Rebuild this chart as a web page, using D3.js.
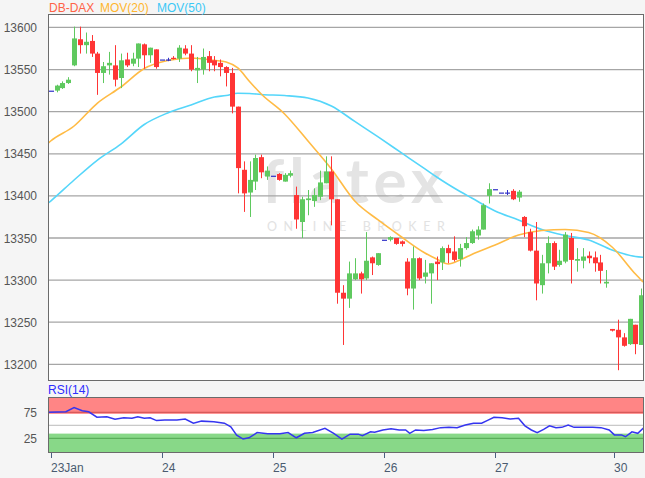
<!DOCTYPE html>
<html><head><meta charset="utf-8">
<script src="https://cdn.jsdelivr.net/npm/d3@7"></script>
<style>
html,body{margin:0;padding:0;background:#f5f5f5;}
svg{display:block;font-family:"Liberation Sans",Arial,sans-serif;}
</style></head><body>
<svg id="c" width="645" height="478"></svg>
<script>
// ---------- data ----------
const candleOpen  = [13525,13525,13528,13534,13555,13586,13579,13584,13569,13546,13555,13555,13540,13562,13557,13563,13580,13567,13574,13562,13562,13564,13563,13575,13569,13549,13550,13566,13561,13558,13553,13546,13506,13431,13404,13417,13446,13423,13424,13426,13417,13424,13401,13369,13395,13394,13399,13415,13429,13396,13285,13278,13301,13308,13302,13327,13318,13348,13348,13350,13346,13322,13290,13326,13304,13308,13322,13321,13338,13334,13325,13338,13344,13353,13360,13400,13408,13404,13404,13406,13398,13375,13357,13335,13294,13320,13344,13318,13322,13350,13323,13323,13329,13327,13321,13296,13242,13241,13232,13224,13247,13223];
const candleHigh  = [13525,13532,13536,13541,13601,13601,13594,13591,13571,13559,13571,13579,13569,13570,13570,13581,13581,13576,13574,13562,13564,13566,13579,13579,13579,13565,13575,13572,13566,13562,13554,13552,13506,13441,13441,13449,13449,13435,13424,13427,13427,13430,13411,13399,13407,13409,13430,13447,13447,13396,13294,13322,13326,13310,13357,13328,13332,13348,13352,13350,13347,13326,13340,13327,13324,13320,13328,13340,13342,13352,13343,13351,13360,13364,13391,13415,13408,13404,13407,13408,13407,13376,13361,13369,13330,13352,13346,13336,13357,13356,13338,13338,13334,13334,13330,13312,13242,13253,13237,13254,13247,13290];
const candleLow   = [13525,13523,13527,13533,13554,13569,13569,13565,13520,13534,13544,13530,13528,13553,13554,13553,13551,13558,13551,13562,13560,13562,13559,13567,13548,13534,13544,13548,13548,13542,13530,13498,13403,13381,13375,13407,13421,13419,13424,13418,13417,13422,13361,13350,13377,13387,13395,13415,13365,13272,13223,13267,13300,13284,13300,13306,13317,13348,13346,13342,13340,13282,13265,13300,13296,13272,13300,13312,13320,13322,13316,13336,13343,13348,13360,13391,13408,13404,13401,13395,13393,13351,13334,13276,13284,13308,13312,13316,13320,13296,13310,13314,13320,13310,13296,13291,13239,13193,13221,13223,13212,13223];
const candleClose = [13525,13531,13534,13538,13587,13579,13583,13569,13546,13554,13558,13538,13561,13555,13563,13581,13567,13576,13553,13562,13562,13563,13576,13569,13550,13552,13565,13558,13555,13553,13546,13506,13433,13403,13419,13445,13428,13430,13424,13419,13425,13427,13372,13396,13397,13401,13416,13429,13396,13285,13278,13308,13308,13301,13323,13320,13332,13348,13351,13343,13343,13290,13326,13302,13309,13320,13319,13338,13332,13324,13338,13344,13358,13360,13389,13408,13408,13404,13404,13396,13405,13364,13335,13296,13320,13344,13316,13323,13354,13324,13325,13328,13326,13320,13311,13298,13240,13232,13222,13254,13224,13282];

// moving averages at these candle positions
const maIdx = [-0.4,0,4,8,12,16,20,24,28,30,32,34,36,40,44,48,52,56,60,64,66,68,70,72,76,80,84,88,92,96,100,101.3];
const mov20 = [13462.8,13465.2,13483.0,13510.3,13529.3,13551.3,13560.8,13563.8,13561.0,13559.0,13551.9,13535.9,13521.0,13497.3,13465.2,13432.0,13393.9,13371.4,13351.2,13332.2,13325.1,13319.1,13323.9,13330.4,13341.7,13353.6,13358.9,13360.1,13356.5,13339.3,13307.2,13297.7];
const mov50 = [13391.6,13393.9,13418.9,13442.6,13461.6,13484.8,13498.5,13508.0,13517.5,13519.2,13521.9,13521.6,13520.4,13519.2,13516.3,13506.8,13488.4,13470.0,13451.0,13432.0,13422.4,13413.5,13405.2,13397.5,13382.1,13371.4,13360.1,13353.0,13347.6,13335.8,13328.0,13327.1];

// RSI(14)
const rsiIdx = [-0.4,2.6,4.0,5.4,6.5,7.9,9.6,11.0,12.5,13.9,14.9,16.0,17.0,18.1,19.5,21.6,23.0,24.4,25.8,27.9,29.7,30.8,31.8,32.9,33.9,35.3,37.1,39.2,40.6,42.0,43.4,44.8,46.9,48.4,49.8,51.2,52.6,53.3,54.7,55.4,56.8,58.2,59.6,60.7,61.4,62.4,63.8,65.3,66.7,68.1,69.5,70.9,72.3,73.7,74.8,75.8,77.2,78.6,80.0,81.1,82.2,83.2,84.3,85.3,86.4,87.4,88.5,89.5,91.3,92.7,94.1,95.5,96.4,97.6,98.3,99.4,100.4,101.5];
const rsiVal = [75,76,84,78,76,65.5,66.5,61.5,64.5,63.5,66.5,63.5,64.5,59,60,60,62,54,58,57,54,47,31,23.5,26,36,33.5,33.5,36,26,34.5,36,44,34.5,23.5,33,33,30,37.5,36.5,41,43.5,41,41,34.5,41,40,42,45.5,46,45.5,50.5,54,54,60,65.5,64.5,62,63.5,49,41,36,42,49,45.5,46,50.5,46,46,46,45.5,41,31.5,31.5,28,37.5,34.5,46];

const priceTicks = [13200,13250,13300,13350,13400,13450,13500,13550,13600];
const rsiTicks = [25,75];
const dayIdx = [0,19,38,57,76,96.4];
const dayLabels = ["23Jan","24","25","26","27","30"];

// ---------- layout ----------
const svg = d3.select("#c");
const M = {left:48, right:644, top:14, bottom:381};
const R = {top:397, bottom:453};

const x = d3.scaleLinear().domain([0,101]).range([50.7,641.3]);
const y = d3.scaleLinear().domain([13180.2,13616]).range([M.bottom,M.top]);
const yr = d3.scaleLinear().domain([-3.3,104.4]).range([R.bottom,R.top]);

const defs = svg.append("defs");
defs.append("clipPath").attr("id","cm").append("rect")
  .attr("x",M.left).attr("y",M.top).attr("width",M.right-M.left).attr("height",M.bottom-M.top);
defs.append("clipPath").attr("id","cr").append("rect")
  .attr("x",M.left).attr("y",R.top).attr("width",M.right-M.left).attr("height",R.bottom-R.top);

// main panel background
svg.append("rect").attr("x",M.left).attr("y",M.top).attr("width",M.right-M.left).attr("height",M.bottom-M.top).attr("fill","#fff");

// watermark
const wm = svg.append("g").attr("clip-path","url(#cm)");
wm.append("text").attr("x",262).attr("y",203).attr("font-family","Lato,sans-serif")
  .attr("font-weight",700).attr("font-size",62).attr("letter-spacing",5).attr("fill","#e4e4e4").text("flatex");
wm.append("text").attr("x",267).attr("y",231).attr("font-family","Lato,sans-serif")
  .attr("font-size",12.5).attr("letter-spacing",6.6).attr("fill","#e2e2e2").text("ONLINE BROKER");

// gridlines
svg.append("g").selectAll("line").data(priceTicks).join("line")
  .attr("x1",M.left).attr("x2",M.right).attr("y1",d=>y(d)).attr("y2",d=>y(d))
  .attr("stroke","#a6a6a6").attr("stroke-width",1.3);

// y labels
svg.append("g").selectAll("text").data(priceTicks).join("text")
  .attr("x",37).attr("y",d=>y(d)+4.5).attr("text-anchor","end")
  .attr("font-size",12).attr("fill","#555").text(d=>d);

const plot = svg.append("g").attr("clip-path","url(#cm)");

// moving averages
const maLine = vals => d3.line().x((d,i)=>x(maIdx[i])).y(d=>y(d)).curve(d3.curveMonotoneX)(vals);
plot.append("path").attr("d",maLine(mov50)).attr("fill","none").attr("stroke","#55d6fa").attr("stroke-width",1.6);
plot.append("path").attr("d",maLine(mov20)).attr("fill","none").attr("stroke","#ffbb45").attr("stroke-width",1.6);

// candles
const candles = candleOpen.map((o,i)=>({i,o,h:candleHigh[i],l:candleLow[i],c:candleClose[i]}));
const col = d => d.c>d.o ? "#5fc95f" : (d.c<d.o ? "#ff3535" : "#3030c8");
const cg = plot.append("g").selectAll("g").data(candles).join("g");
cg.append("line")
  .attr("x1",d=>Math.round(x(d.i))+0.5).attr("x2",d=>Math.round(x(d.i))+0.5)
  .attr("y1",d=>y(d.h)).attr("y2",d=>y(d.l)).attr("stroke",col).attr("stroke-width",1);
cg.append("rect")
  .attr("x",d=>Math.round(x(d.i))-2).attr("width",5)
  .attr("y",d=>Math.min(y(d.o),y(d.c)))
  .attr("height",d=>Math.max(1.2,Math.abs(y(d.o)-y(d.c))))
  .attr("fill",col);

// main border
svg.append("rect").attr("x",M.left+0.5).attr("y",M.top+0.5).attr("width",M.right-M.left-1).attr("height",M.bottom-M.top-1)
  .attr("fill","none").attr("stroke","#6b6b6b").attr("stroke-width",1);

// legend
const lg = [["DB-DAX","#ff6347",49],["MOV(20)","#ffb52e",100],["MOV(50)","#3cc8f5",157]];
svg.append("g").selectAll("text").data(lg).join("text")
  .attr("x",d=>d[2]).attr("y",12).attr("font-size",12).attr("fill",d=>d[1]).text(d=>d[0]);

// ---------- RSI panel ----------
svg.append("rect").attr("x",M.left).attr("y",R.top).attr("width",M.right-M.left).attr("height",R.bottom-R.top).attr("fill","#fff");
const rp = svg.append("g").attr("clip-path","url(#cr)");
rp.append("rect").attr("x",M.left).attr("width",M.right-M.left).attr("y",yr(104.4)).attr("height",yr(72)-yr(104.4)).attr("fill","#ff8585");
rp.append("rect").attr("x",M.left).attr("width",M.right-M.left).attr("y",yr(34)).attr("height",yr(-3.3)-yr(34)).attr("fill","#88d888");
rp.append("line").attr("x1",M.left).attr("x2",M.right).attr("y1",yr(50)).attr("y2",yr(50)).attr("stroke","#bbb").attr("stroke-width",1);
rp.selectAll("line.t").data(rsiTicks).join("line").attr("class","t")
  .attr("x1",M.left).attr("x2",M.right).attr("y1",d=>yr(d)).attr("y2",d=>yr(d))
  .attr("stroke",d=>d>50?"#d85a5a":"#5aae5a").attr("stroke-width",1.3);
rp.append("path").attr("d",d3.line().x((d,i)=>x(rsiIdx[i])).y(d=>yr(d))(rsiVal))
  .attr("fill","none").attr("stroke","#3535f0").attr("stroke-width",1.5);
svg.append("rect").attr("x",M.left+0.5).attr("y",R.top+0.5).attr("width",M.right-M.left-1).attr("height",R.bottom-R.top-1)
  .attr("fill","none").attr("stroke","#6b6b6b").attr("stroke-width",1);
svg.append("g").selectAll("text").data(rsiTicks).join("text")
  .attr("x",37).attr("y",d=>yr(d)+4.5).attr("text-anchor","end").attr("font-size",12).attr("fill","#555").text(d=>d);
svg.append("text").attr("x",48).attr("y",394).attr("font-size",12).attr("fill","#2d2dff").text("RSI(14)");

// x axis
const xa = svg.append("g");
xa.selectAll("line").data(dayIdx).join("line")
  .attr("x1",d=>Math.round(x(d))+0.5).attr("x2",d=>Math.round(x(d))+0.5)
  .attr("y1",R.bottom).attr("y2",R.bottom+5).attr("stroke","#4a6080");
xa.selectAll("text").data(dayIdx).join("text")
  .attr("x",d=>Math.round(x(d))).attr("y",472).attr("font-size",12).attr("fill","#4a5b70")
  .text((d,i)=>dayLabels[i]);
</script>
</body></html>
